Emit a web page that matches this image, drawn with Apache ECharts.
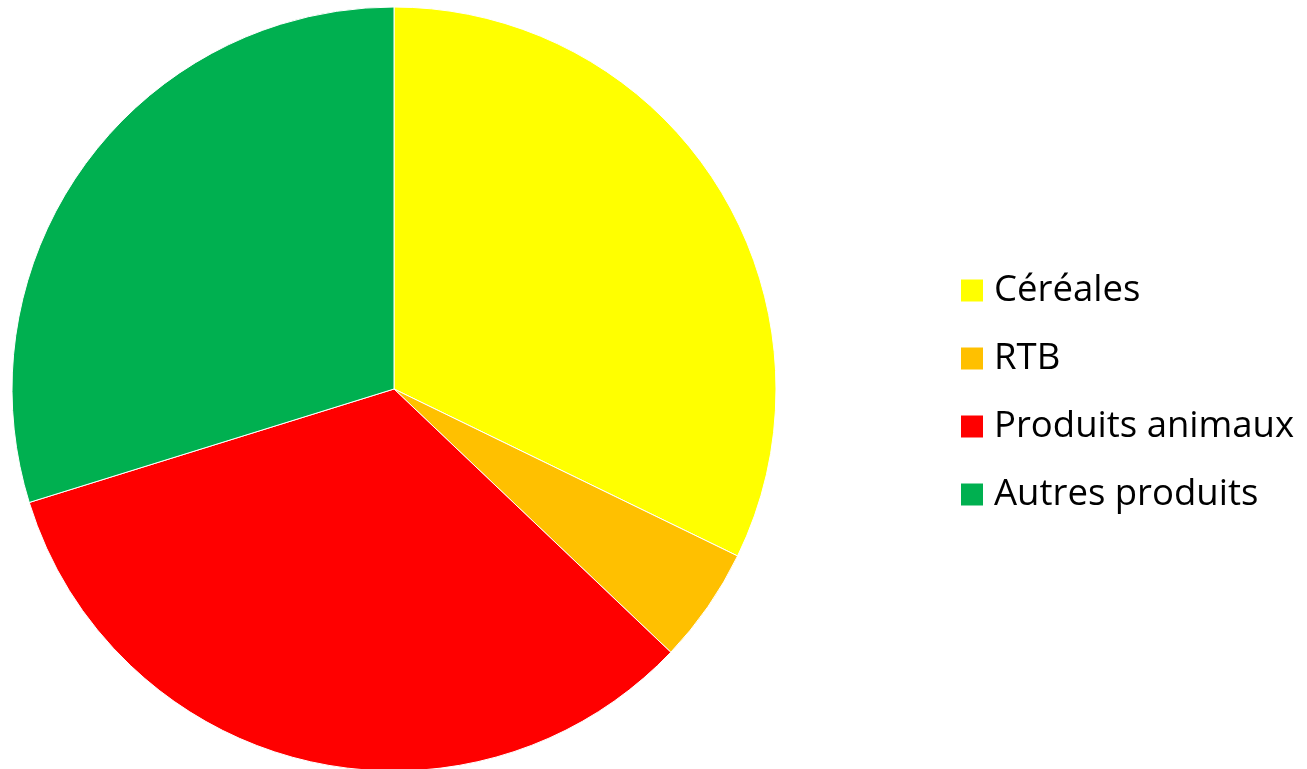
<!DOCTYPE html>
<html>
<head>
<meta charset="utf-8">
<script src="https://cdn.jsdelivr.net/npm/echarts@6/dist/echarts.min.js"></script>
<style>html,body{margin:0;padding:0;background:#fff}#c{width:1307px;height:769px}</style>
</head>
<body>
<div id="c"></div>
<script>
const categories = ['Céréales', 'RTB', 'Produits animaux', 'Autres produits'];
const values = [32.2, 4.9, 33.1, 29.8];
const colors = ['#FFFF00', '#FFC000', '#FF0000', '#00B050'];

const chart = echarts.init(document.getElementById('c'), null, {renderer: 'canvas'});
chart.setOption({
  animation: false,
  legend: {
    orient: 'vertical',
    left: 959,
    top: 272,
    padding: 0,
    itemWidth: 24,
    itemHeight: 24,
    itemGap: 31,
    icon: 'rect',
    textStyle: {fontFamily: 'Open Sans', fontSize: 36.5, color: '#000', lineHeight: 36, padding: [0, 0, 0, 5]},
    data: categories
  },
  series: [{
    type: 'pie',
    center: [394, 389],
    radius: 382,
    startAngle: 90,
    clockwise: true,
    label: {show: false},
    labelLine: {show: false},
    itemStyle: {borderColor: '#fff', borderWidth: 1},
    emphasis: {disabled: true},
    data: categories.map((n, i) => ({name: n, value: values[i], itemStyle: {color: colors[i]}}))
  }]
});
</script>
</body>
</html>
